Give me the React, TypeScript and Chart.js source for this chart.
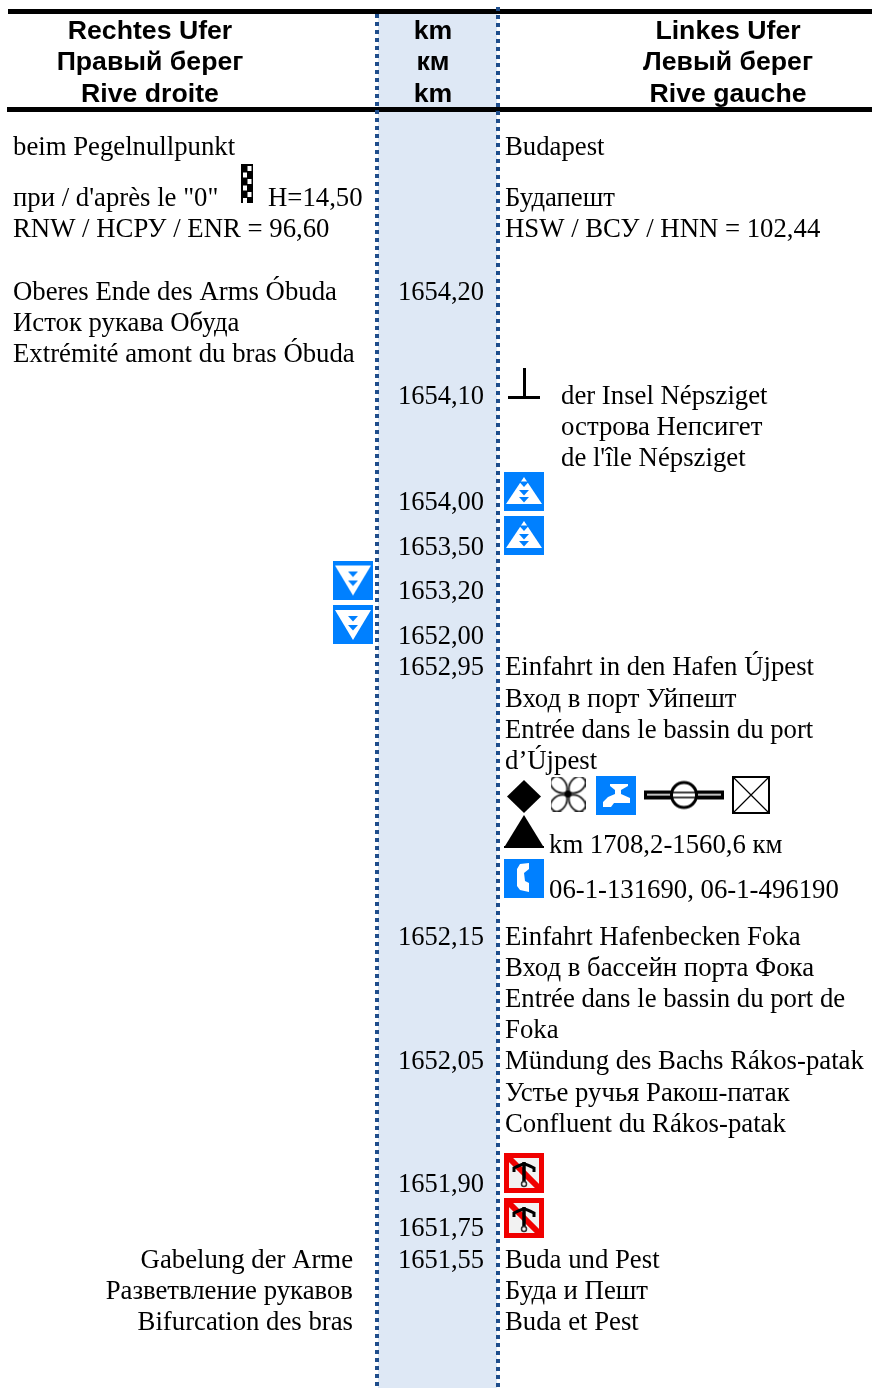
import React, { useEffect, useRef } from "react";
import { Chart, registerables } from "chart.js";

Chart.register(...registerables);

// ---- content ----
const headerRight = ["Rechtes Ufer", "Правый берег", "Rive droite"];
const headerKm = ["km", "км", "km"];
const headerLeft = ["Linkes Ufer", "Левый берег", "Rive gauche"];

const kmValues = ["1654,20", "1654,10", "1654,00", "1653,50", "1653,20", "1652,00", "1652,95", "1652,15", "1652,05", "1651,90", "1651,75", "1651,55"];

const rightBankTop = ["beim Pegelnullpunkt", "при / d'après le \"0\"", "H=14,50", "RNW / НСРУ / ENR = 96,60", "Oberes Ende des Arms Óbuda", "Исток рукава Обуда", "Extrémité amont du bras Óbuda"];
const rightBankBottom = ["Gabelung der Arme", "Разветвление рукавов", "Bifurcation des bras"];

const leftBank = ["Budapest", "Будапешт", "HSW / ВСУ / HNN = 102,44", "Einfahrt in den Hafen Újpest", "Вход в порт Уйпешт", "Entrée dans le bassin du port", "d’Újpest", "Einfahrt Hafenbecken Foka", "Вход в бассейн порта Фока", "Entrée dans le bassin du port de", "Foka", "Mündung des Bachs Rákos-patak", "Устье ручья Ракош-патак", "Confluent du Rákos-patak", "Buda und Pest", "Буда и Пешт", "Buda et Pest"];
const leftBankIndented = ["der Insel Népsziget", "острова Непсигет", "de l'île Népsziget"];
const leftBankAfterIcons = ["km 1708,2-1560,6 км", "06-1-131690, 06-1-496190"];

// ---- layout (baselines on a page-height axis) ----
const W = 872;
const H = 1388;
const headerRows = [39, 70, 102];
const kmRows = [300, 404, 510, 555, 599, 644, 675, 945, 1069, 1192, 1236, 1268];
const rightTopRows = [155, 206, 206, 237, 300, 331, 362];
const rightTopCols = [13, 13, 268, 13, 13, 13, 13];
const rightBottomRows = [1268, 1299, 1330];
const leftRows = [155, 206, 237, 675, 707, 738, 769, 945, 976, 1007, 1038, 1069, 1101, 1132, 1268, 1299, 1330];
const leftIndentRows = [404, 435, 466];
const leftAfterRows = [853, 898];

const BLUE = "#0080FF";
const SERIF = '"Liberation Serif", serif';
const SANS = '"Liberation Sans", sans-serif';

type Painter = (c: CanvasRenderingContext2D, w: number, h: number) => void;

function icon(w: number, h: number, paint: Painter): HTMLCanvasElement {
  const cv = document.createElement("canvas");
  cv.width = w;
  cv.height = h;
  paint(cv.getContext("2d") as CanvasRenderingContext2D, w, h);
  return cv;
}

function poly(c: CanvasRenderingContext2D, pts: number[][], fill: string) {
  c.fillStyle = fill;
  c.beginPath();
  pts.forEach((p, i) => (i ? c.lineTo(p[0], p[1]) : c.moveTo(p[0], p[1])));
  c.closePath();
  c.fill();
}

const paintUp: Painter = (c, w, h) => {
  c.fillStyle = BLUE;
  c.fillRect(0, 0, w, h);
  poly(c, [[20, 5], [38, 32], [2, 32]], "#fff");
  [9.5, 18, 25].forEach((y) => poly(c, [[15, y], [25, y], [20, y + 5.5]], BLUE));
};
const paintDown: Painter = (c, w, h) => {
  c.fillStyle = BLUE;
  c.fillRect(0, 0, w, h);
  poly(c, [[2, 5], [38, 5], [20, 35]], "#fff");
  [11, 20].forEach((y) => poly(c, [[15, y], [25, y], [20, y + 5.5]], BLUE));
};
const paintDiamond: Painter = (c) => poly(c, [[17, 0], [34, 16.5], [17, 33], [0, 16.5]], "#000");
const paintClover: Painter = (c) => {
  c.strokeStyle = "#222";
  c.lineWidth = 1.8;
  [45, 135, 225, 315].forEach((a) => {
    c.save();
    c.translate(17.5, 17.5);
    c.rotate((a * Math.PI) / 180);
    c.beginPath();
    c.moveTo(2, 0);
    c.bezierCurveTo(8, -10, 23, -8, 22, 0);
    c.bezierCurveTo(23, 8, 8, 10, 2, 0);
    c.stroke();
    c.restore();
  });
  c.fillStyle = "#000";
  c.beginPath();
  c.arc(17.5, 17.5, 3.5, 0, Math.PI * 2);
  c.fill();
};
const paintTap: Painter = (c, w, h) => {
  c.fillStyle = BLUE;
  c.fillRect(0, 0, w, h);
  poly(c, [[14, 8], [32, 8], [32, 10], [25, 14], [25, 18], [34, 22], [34, 27], [18, 27], [15, 31], [7, 31], [7, 26], [12, 21], [19, 18], [19, 14], [14, 10]], "#fff");
};
const paintPipe: Painter = (c) => {
  c.fillStyle = "#000";
  c.fillRect(0, 11, 80, 9);
  c.fillStyle = "#fff";
  c.fillRect(3, 14.5, 74, 1.5);
  c.beginPath();
  c.arc(40, 15.5, 12.5, 0, Math.PI * 2);
  c.fillStyle = "#fff";
  c.fill();
  c.strokeStyle = "#000";
  c.lineWidth = 3;
  c.stroke();
  c.lineWidth = 1.5;
  c.beginPath();
  c.moveTo(28, 13);
  c.lineTo(52, 13);
  c.moveTo(28, 18);
  c.lineTo(52, 18);
  c.stroke();
};
const paintBox: Painter = (c, w, h) => {
  c.strokeStyle = "#000";
  c.lineWidth = 2;
  c.strokeRect(1, 1, w - 2, h - 2);
  c.lineWidth = 1.2;
  c.beginPath();
  c.moveTo(1, 1);
  c.lineTo(w - 1, h - 1);
  c.moveTo(w - 1, 1);
  c.lineTo(1, h - 1);
  c.stroke();
};
const paintTriangle: Painter = (c, w, h) => {
  poly(c, [[20, 0], [39, 31], [1, 31]], "#000");
  c.fillStyle = "#000";
  c.fillRect(0, h - 2, w, 2);
};
const paintPhone: Painter = (c, w, h) => {
  c.fillStyle = BLUE;
  c.fillRect(0, 0, w, h);
  poly(c, [[25, 4], [16, 5], [13, 10], [13, 27], [16, 31], [25, 33], [25, 24], [21, 22], [20, 14], [25, 10]], "#fff");
};
const paintNoAnchor: Painter = (c, w, h) => {
  c.fillStyle = "#F00000";
  c.fillRect(0, 0, w, h);
  c.fillStyle = "#F2F2F2";
  c.fillRect(5, 5, w - 10, h - 10);
  c.strokeStyle = "#F00000";
  c.lineWidth = 6;
  c.beginPath();
  c.moveTo(5, 5);
  c.lineTo(w - 5, h - 5);
  c.stroke();
  c.strokeStyle = "#000";
  c.lineWidth = 3.5;
  c.beginPath();
  c.moveTo(20, 9);
  c.lineTo(20, 29);
  c.stroke();
  c.lineWidth = 3;
  c.beginPath();
  c.moveTo(10, 19);
  c.lineTo(10, 15);
  c.quadraticCurveTo(18, 11, 20, 11);
  c.quadraticCurveTo(22, 11, 30, 15);
  c.lineTo(30, 19);
  c.stroke();
  c.strokeStyle = "#333";
  c.lineWidth = 1.5;
  c.beginPath();
  c.arc(20, 31, 2.5, 0, Math.PI * 2);
  c.stroke();
};
const paintChecker: Painter = (c, w, h) => {
  c.fillStyle = "#000";
  c.fillRect(0, 0, w, h);
  c.fillStyle = "#fff";
  [[6.5, 2], [2, 8.5], [6.5, 15], [2, 21.5], [6.5, 28], [2, 34]].forEach((p) => c.fillRect(p[0], p[1], 4, 5));
};
const paintMouth: Painter = (c) => {
  c.fillStyle = "#000";
  c.fillRect(0, 28, 32, 3);
  c.fillRect(15, 0, 3, 30);
};

const App = () => {
  const ref = useRef<HTMLCanvasElement>(null);
  useEffect(() => {
    document.body.style.margin = "0";
    const line = (x0: number, y0: number, x1: number, y1: number, color: string, width: number, order: number, dash: number[] = []) => ({
      data: [{ x: x0, y: y0 }, { x: x1, y: y1 }],
      showLine: true,
      borderColor: color,
      borderWidth: width,
      borderDash: dash,
      pointRadius: 0,
      borderCapStyle: "butt" as const,
      clip: false,
      order,
    });
    const mark = (img: HTMLCanvasElement, x: number, y: number) => ({
      data: [{ x, y }],
      showLine: false,
      pointStyle: img,
      pointRadius: 10,
      clip: false,
      order: 1,
    });
    const up = icon(40, 39, paintUp);
    const down = icon(40, 39, paintDown);
    const noAnchor = icon(40, 40, paintNoAnchor);

    const tableText = {
      id: "tableText",
      afterDatasetsDraw(chart: Chart) {
        const { ctx, scales } = chart;
        const put = (t: string, x: number, y: number, align: CanvasTextAlign) => {
          ctx.textAlign = align;
          ctx.fillText(t, scales.x.getPixelForValue(x), scales.y.getPixelForValue(y));
        };
        ctx.save();
        ctx.fillStyle = "#000";
        ctx.textBaseline = "alphabetic";
        ctx.font = `bold 26.67px ${SANS}`;
        headerRows.forEach((y, i) => {
          put(headerRight[i], 150, y, "center");
          put(headerKm[i], 433, y, "center");
          put(headerLeft[i], 728, y, "center");
        });
        ctx.font = `26.5px ${SERIF}`;
        kmValues.forEach((t, i) => put(t, 484, kmRows[i], "right"));
        ctx.font = `26.75px ${SERIF}`;
        rightBankTop.forEach((t, i) => put(t, rightTopCols[i], rightTopRows[i], "left"));
        rightBankBottom.forEach((t, i) => put(t, 353, rightBottomRows[i], "right"));
        leftBank.forEach((t, i) => put(t, 505, leftRows[i], "left"));
        leftBankIndented.forEach((t, i) => put(t, 561, leftIndentRows[i], "left"));
        leftBankAfterIcons.forEach((t, i) => put(t, 549, leftAfterRows[i], "left"));
        ctx.restore();
      },
    };

    const chart = new Chart(ref.current as HTMLCanvasElement, {
      type: "scatter",
      data: {
        datasets: [
          line(437.5, 13, 437.5, H, "#DEE8F5", 119, 5),
          line(8, 11.5, W, 11.5, "#000", 5, 4),
          line(7, 109.5, W, 109.5, "#000", 5, 4),
          line(377, 14, 377, H, "#1F4E8C", 4, 3, [4, 4]),
          line(498, 7, 498, H, "#1F4E8C", 4, 3, [4, 4]),
          mark(icon(12, 39, paintChecker), 247, 183.5),
          mark(icon(32, 31, paintMouth), 524, 383.5),
          mark(up, 524, 491.5),
          mark(up, 524, 535.5),
          mark(down, 353, 580),
          mark(down, 353, 624.5),
          mark(icon(34, 33, paintDiamond), 524, 796.5),
          mark(icon(35, 35, paintClover), 568, 794),
          mark(icon(40, 39, paintTap), 616, 795.5),
          mark(icon(80, 31, paintPipe), 684, 795),
          mark(icon(38, 38, paintBox), 751, 795),
          mark(icon(40, 33, paintTriangle), 524, 831.5),
          mark(icon(40, 39, paintPhone), 524, 878.5),
          mark(noAnchor, 524, 1173),
          mark(noAnchor, 524, 1218),
        ] as any,
      },
      options: {
        responsive: false,
        animation: false,
        layout: { padding: 0, autoPadding: false },
        plugins: { legend: { display: false }, tooltip: { enabled: false } },
        scales: {
          x: { type: "linear", min: 0, max: W, display: false },
          y: { type: "linear", min: 0, max: H, reverse: true, display: false },
        },
      },
      plugins: [tableText],
    });
    return () => chart.destroy();
  }, []);
  return <canvas ref={ref} width={W} height={H} style={{ display: "block" }} />;
};

export default App;
